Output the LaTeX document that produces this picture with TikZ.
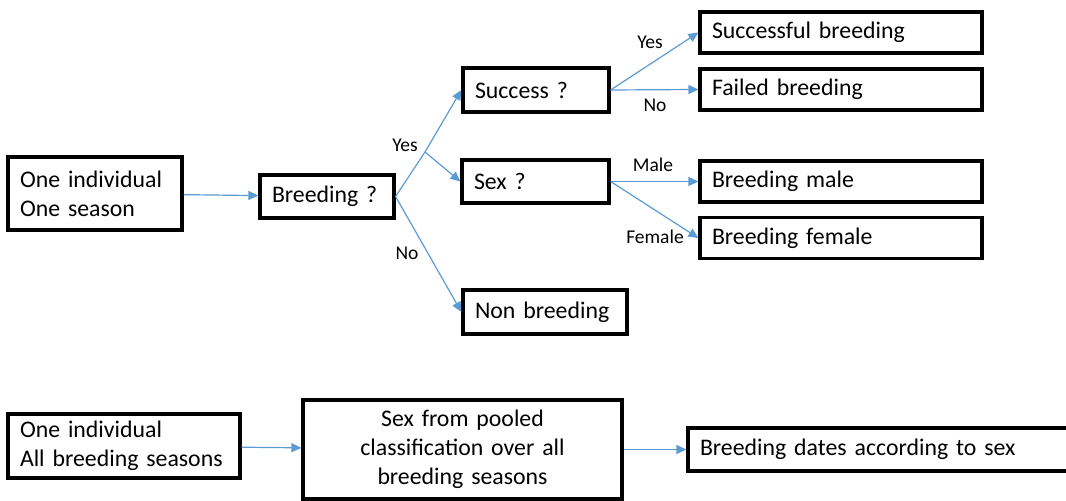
\documentclass[tikz,border=0pt]{standalone}
\usepackage{fontspec}
\setmainfont{Carlito}
\usetikzlibrary{arrows.meta}
\definecolor{flowblue}{RGB}{91,155,213}
\newcommand{\boxfont}{\fontsize{11.9}{14.5}\selectfont\hyphenpenalty=10000\relax}

\begin{document}
\begin{tikzpicture}[x=0.5pt, y=-0.5pt,
  box/.style={draw=black, line width=1.6pt, inner xsep=6pt, inner ysep=0pt,
    align=left, font=\boxfont},
  arr/.style={flowblue, line width=0.6pt, -{Triangle[length=5pt,width=4.5pt]}},
  lbl/.style={font=\fontsize{9.75}{11}\selectfont}]
  \useasboundingbox (0,0) rectangle (1066,501);

  % Single season
  \node[box, text width=75pt, minimum height=36.5pt] (ind1) at (95,193.5) {One individual\\One season};
  \node[box, text width=55pt, minimum height=21.5pt] (breed) at (327,196.5) {Breeding ?};
  \node[box, text width=61pt, minimum height=22pt] (succ) at (536,90) {Success ?};
  \node[box, text width=61.5pt, minimum height=21.5pt] (sex) at (535.5,181.5) {Sex ?};
  \node[box, text width=70pt, minimum height=22pt] (nonb) at (545,312) {Non breeding};

  % Outcomes
  \foreach \n/\y/\t in {sbreed/32.5/Successful breeding, fbreed/89.5/Failed breeding,
                        mbreed/181.5/Breeding male, febreed/238/Breeding female} {
    \node[box, text width=129pt, minimum height=20.5pt] (\n) at (841,\y) {\t};
  }

  % Arrows
  \coordinate (ysplit) at (425,152);
  \draw[arr] (ind1) -- (breed);
  \draw[flowblue, line width=0.6pt] (breed.east) -- (ysplit);
  \draw[arr] (ysplit) -- (succ.west);
  \draw[arr] (ysplit) -- (sex.west);
  \draw[arr] (breed.east) -- (nonb.west);
  \draw[arr] (succ.east) -- (sbreed.west);
  \draw[arr] (succ.east) -- (fbreed.west);
  \draw[arr] (sex.east) -- (mbreed.west);
  \draw[arr] (sex.east) -- (febreed.west);

  % Labels
  \foreach \n/\x/\y/\t in {lyes/405/145/Yes, lno/407/253/No, lsyes/650/42/Yes,
                           lsno/655/105/No, lmale/653/165/Male, lfem/655/237/Female} {
    \node[lbl] (\n) at (\x,\y) {\t};
  }

  % All seasons
  \node[box, text width=104pt, minimum height=32pt] (ind2) at (124,446) {One individual\\All breeding seasons};
  \node[box, align=center, text width=147.5pt, minimum height=49.5pt] (pooled) at (462.5,449.5)
    {Sex from pooled\\classification over all\\breeding seasons};
  \node[box, text width=184pt, minimum height=21.5pt] (dates) at (884,449.5) {Breeding dates according to sex};
  \draw[arr] (ind2) -- (pooled);
  \draw[arr] (pooled) -- (dates);
\end{tikzpicture}
\end{document}
